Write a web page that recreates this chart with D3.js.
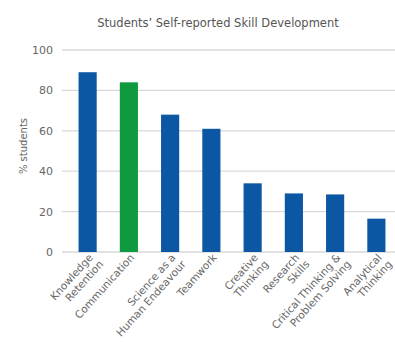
<!DOCTYPE html>
<html>
<head>
<meta charset="utf-8">
<script src="https://cdn.jsdelivr.net/npm/d3@7"></script>
<style>
  body { margin: 0; background: #fff; }
  text { font-family: "DejaVu Sans", Verdana, sans-serif; }
</style>
</head>
<body>
<div id="chart"></div>
<script>
// datos del grafico
const skills = [
  ['Knowledge', 'Retention'],
  ['Communication'],
  ['Science as a', 'Human Endeavour'],
  ['Teamwork'],
  ['Creative', 'Thinking'],
  ['Research', 'Skills'],
  ['Critical Thinking &', 'Problem Solving'],
  ['Analytical', 'Thinking']
];
const percents = [89, 84, 68, 61, 34, 29, 28.5, 16.5];
const barColors = ['#0b57a4', '#0f9a40', '#0b57a4', '#0b57a4', '#0b57a4', '#0b57a4', '#0b57a4', '#0b57a4'];
const yTicks = [0, 20, 40, 60, 80, 100];

const width = 395;
const height = 342;

const svg = d3.select('#chart')
  .append('svg')
  .attr('width', width)
  .attr('height', height);

// escalas
const x = d3.scaleBand()
  .domain(d3.range(percents.length))
  .range([67, 397])
  .paddingInner(0.56)
  .paddingOuter(0.28);

const y = d3.scaleLinear()
  .domain([0, 100])
  .range([252, 50]);

// lineas de la rejilla
svg.append('g')
  .selectAll('line')
  .data(yTicks)
  .enter().append('line')
  .attr('x1', 62)
  .attr('x2', width)
  .attr('y1', d => y(d))
  .attr('y2', d => y(d))
  .attr('stroke', '#d9d9d9')
  .attr('stroke-width', 1.3);

// eje y
const yAxis = d3.axisLeft(y).tickValues(yTicks).tickSize(0).tickPadding(0);
svg.append('g')
  .attr('transform', 'translate(53,0)')
  .call(yAxis)
  .call(g => g.select('.domain').remove())
  .selectAll('text')
  .attr('fill', '#666')
  .style('font-family', '"DejaVu Sans", sans-serif')
  .style('font-size', '11px');

// barras
svg.selectAll('.bar')
  .data(percents)
  .enter().append('rect')
  .attr('class', 'bar')
  .attr('x', (d, i) => x(i))
  .attr('width', x.bandwidth())
  .attr('y', d => y(d))
  .attr('height', d => y(0) - y(d))
  .attr('fill', (d, i) => barColors[i]);

// etiquetas del eje x
const labels = svg.append('g')
  .selectAll('text')
  .data(skills)
  .enter().append('text')
  .attr('transform', (d, i) => `translate(${x(i) + x.bandwidth() / 2 + 6}, 258) rotate(-48)`)
  .attr('text-anchor', 'end')
  .attr('fill', '#666')
  .style('font-size', '10.5px');

labels.selectAll('tspan')
  .data(d => d.map((t, k) => ({ t, k })))
  .enter().append('tspan')
  .attr('x', d => d.k * 2)
  .attr('y', d => d.k * 12)
  .text(d => d.t);

// titulo
svg.append('text')
  .attr('x', 218)
  .attr('y', 27)
  .attr('text-anchor', 'middle')
  .attr('fill', '#555')
  .style('font-size', '11.5px')
  .text('Students\u2019 Self-reported Skill Development');

// titulo del eje y
svg.append('text')
  .attr('transform', 'translate(27,146) rotate(-90)')
  .attr('text-anchor', 'middle')
  .attr('fill', '#666')
  .style('font-size', '10px')
  .text('% students');
</script>
</body>
</html>
